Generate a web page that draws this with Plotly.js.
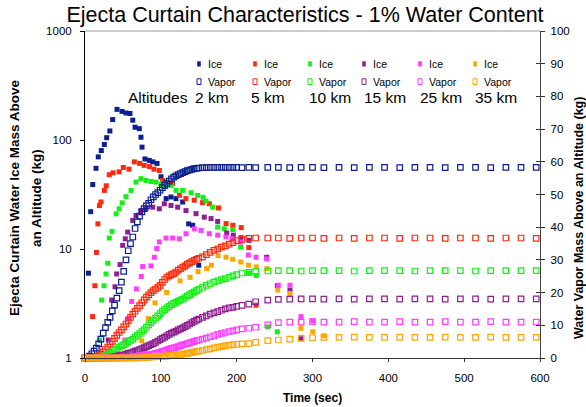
<!DOCTYPE html>
<html>
<head>
<meta charset="utf-8">
<script src="https://cdn.plot.ly/plotly-3.0.1.min.js"></script>
<style>
html,body{margin:0;padding:0;background:#fff;}
#chart{width:586px;height:407px;}
</style>
</head>
<body>
<div id="chart"></div>
<script>
// ---------------- DATA ----------------
const altitudes = ['2 km', '5 km', '10 km', '15 km', '25 km', '35 km'];
const xTicks = [0, 100, 200, 300, 400, 500, 600];
const yLeftTicks = [1, 10, 100, 1000];
const yRightTicks = [0, 10, 20, 30, 40, 50, 60, 70, 80, 90, 100];

// Ice mass above altitude (kg, left log axis)
const ice2kmTime = [4.5,7.5,10.2,14.5,17.5,21.5,25.5,28.6,32.8,36.5,42.2,48.8,54,59.3,63,66,71.6,73.8,75.2,79,84.8,89.3,95,100.2,107,113.4,120,128.8,136.7,142,150];
const ice2kmMass = [6,22,39,55,70,80,91,105,121,154,191,183,177,175,152,131,127,106,86,67,65,63,61,46,29,30,29,27,17,16.5,7.1];

const ice5kmTime = [10,13,15,17,19,21,25.5,28,32,37,45,50.5,58,65,72,78,85,91,98,102.5,109,115.5,124.5,133,144,155,164,176,186,195,206,216,225.5];
const ice5kmMass = [2.4,4.6,9.3,17,25,27,34.5,38,48,50,51,56,54,63,61,58.5,57,54,52.5,42.5,41,40,31,29,28,26.6,26,23.8,17.1,16.5,15.7,10.3,3.05];

const ice10kmTime = [19,22,25,27.7,30,32,35.6,41,45,49,54,60.7,67.3,73.8,80.4,87,93.6,100.2,106.8,113.4,120,128.8,139.8,148.6,155.6,159.6,168.4,175,183.7,194.8,205.3,215.6,225.9,241,253.6];
const ice10kmMass = [1.46,3.4,4.6,5.9,7.4,12.6,14.5,21,23.4,26.5,30.2,34.5,41.1,44.2,42.5,41.6,41.1,38.9,37.7,38.3,34.5,34.5,32.8,31,29.8,27.4,24.2,15.9,15.3,15.1,10.4,6,5.7,1.93,1.74];

const ice15kmTime = [30.7,35.2,39.6,41.8,46.2,49.7,53.1,56.3,62.9,67.3,73.8,80.4,89.3,98,104.6,113.4,122.2,133.2,146.4,157.3,166.2,175,186.9,195.6,205.7,216.3,239.6,253.6,270.3,284.8];
const ice15kmMass = [1.46,3.4,4.5,5.9,7.2,10.8,12.4,14.3,18.3,20.3,22.5,23.4,24.2,23.4,26,25.1,24.2,22.5,21.1,19.6,19,17.9,14,13.4,12.7,12,8.4,4.6,4.2,1.5];

const ice25kmTime = [52.7,57.1,61.6,67.7,74.2,76.1,87,91.4,94.6,98,106.8,115.6,124.4,133.2,144.1,153,163.9,175,185.9,194.2,205.3,215.3,225.5,239.6,254.9,270.3,284.8,300.3];
const ice25kmMass = [1.46,2.3,3.3,4.3,5.6,6.9,7,8.4,10.1,11.6,12.6,12.6,12.4,13.8,15.3,14.8,13.8,13.4,12.9,12.4,11.6,8.8,8.4,8.1,4.65,4.65,2.4,2.2];

const ice35kmTime = [74.8,83.5,92.3,107.7,125.3,138.5,149,160.5,166.6,175.4,185.9,194.8,205.3,215.6,225.9,240,254.1,270.3,284.8,300.3,315.2];
const ice35kmMass = [1.44,2.3,3.2,4.0,5.1,5.5,6.2,6.6,7.1,8.7,8.4,8.05,7.6,7.1,6.85,6.6,4.2,3.9,1.87,1.74,1.6];

// Vapor mass above altitude (kg, right linear axis), shared sample times
const vaporTime = [0,3,6,9,12,15,18,21,24,27,30,33,36,39,42,45,48,51,54,57,60,63,66,69,72,75,78,81,84,87,90,93,96,99,102,105,108,111,114,117,120,123,126,129,132,135,138,141,144,147,150,
  155,160,165,170,175,180,185,190,195,200,
  207,216,225,241,255,270,285,300,315,
  335,355,375,395,415,435,455,475,495,515,535,555,575,595];

const vapor2km = [0,0.2,0.6,1.3,2.1,3.0,4.3,5.8,7.6,9.3,10.9,12.4,14.4,16.2,18.3,20.6,23.2,26.5,30.0,32.8,35.0,37.0,39.6,41.6,43.4,44.7,45.7,46.5,47.3,48.4,49.3,50.0,50.6,51.3,52.1,52.8,53.4,54.1,54.8,55.3,55.7,56.1,56.4,56.7,57.0,57.3,57.5,57.7,57.9,58.0,58.1,
  58.2,58.2,58.3,58.3,58.3,58.3,58.3,58.3,58.3,58.3,
  58.2,58.3,58.2,58.3,58.3,58.2,58.3,58.3,58.2,
  58.3,58.2,58.3,58.3,58.2,58.3,58.3,58.2,58.3,58.3,58.2,58.3,58.3,58.3];

const vapor5km = [0,0,0,0.1,0.2,0.4,0.7,1.2,1.9,2.6,3.3,4.2,5.1,6.0,6.9,7.8,8.6,9.5,10.4,11.4,12.4,13.4,14.3,15.2,16.0,16.9,17.8,18.6,19.3,20.0,20.6,21.1,21.6,22.2,23.1,24.0,24.7,25.1,25.5,25.8,26.3,26.9,27.3,27.8,28.2,28.7,29.1,29.5,29.9,30.2,30.5,
  30.9,31.6,32.3,32.9,33.4,33.9,34.3,34.8,35.3,35.9,
  36.3,36.6,36.7,36.7,36.7,36.6,36.7,36.7,36.6,
  36.7,36.6,36.7,36.7,36.6,36.7,36.7,36.6,36.7,36.7,36.6,36.7,36.7,36.6];

const vapor10km = [0,0,0,0,0,0.1,0.2,0.3,0.5,0.7,1.0,1.4,1.9,2.4,2.8,3.3,3.7,4.1,4.5,5.0,5.4,5.8,6.4,6.9,7.5,8.1,8.7,9.4,10.1,10.8,11.5,12.2,12.9,13.6,14.3,14.8,15.3,15.8,16.3,16.7,17.0,17.4,17.7,18.0,18.5,19.0,19.4,19.8,20.2,20.6,21.0,
  21.6,22.2,22.7,23.2,23.6,24.0,24.3,24.7,25.1,25.5,
  26.0,26.2,26.4,26.6,26.7,26.7,26.6,26.7,26.7,
  26.7,26.6,26.7,26.7,26.7,26.6,26.7,26.7,26.7,26.6,26.7,26.7,26.7,26.7];

const vapor15km = [0,0,0,0,0,0,0,0,0,0,0.1,0.2,0.3,0.4,0.5,0.7,0.8,1.0,1.2,1.4,1.6,1.8,2.1,2.3,2.6,2.9,3.2,3.5,3.8,4.1,4.4,4.8,5.2,5.6,6.0,6.4,6.8,7.2,7.6,7.9,8.2,8.6,8.9,9.2,9.6,10.0,10.4,10.8,11.2,11.6,11.9,
  12.4,12.9,13.4,13.8,14.2,14.6,15.0,15.3,15.5,15.8,
  16.1,16.5,17.2,17.7,17.9,18.0,18.1,18.1,18.0,
  18.1,18.0,18.1,18.1,18.0,18.1,18.1,18.0,18.1,18.1,18.0,18.1,18.1,18.1];

const vapor25km = [0,0,0,0,0,0,0,0,0,0,0,0,0,0,0,0,0,
  0.1,0.1,0.2,0.3,0.4,0.5,0.6,0.7,0.8,0.9,1.0,1.0,1.1,
  1.2,1.4,1.6,1.8,2.0,2.2,2.5,2.7,2.9,3.1,3.3,3.5,3.8,4.0,4.2,4.4,4.6,4.9,5.1,5.3,5.5,
  5.8,6.1,6.5,6.8,7.2,7.5,7.8,8.1,8.3,8.6,
  8.9,9.1,9.4,10.1,10.8,11.0,11.0,11.1,11.0,
  11.0,11.1,11.0,11.0,11.1,11.0,11.0,11.1,11.0,11.0,11.1,11.0,11.0,11.0];

const vapor35km = [0,0,0,0,0,0,0,0,0,0,0,0,0,0,0,0,0,0,0,0,0,0,0,0,0,
  0.1,0.1,0.2,0.2,0.3,0.3,0.4,0.4,0.5,0.5,0.6,0.6,0.7,0.8,0.9,1.0,1.0,1.1,1.2,1.3,1.4,1.6,1.7,1.8,2.0,2.1,
  2.3,2.6,2.8,3.1,3.3,3.5,3.7,3.9,4.1,4.2,
  4.3,4.4,4.8,5.3,5.5,5.8,6.1,6.2,6.3,
  6.3,6.4,6.3,6.3,6.4,6.3,6.3,6.4,6.3,6.3,6.4,6.3,6.3,6.3];

// ---------------- STYLE ----------------
const colors = ['#0B1F8F', '#FF2A0D', '#14F014', '#8E1F8E', '#FF3DFF', '#FFA500'];
const FONT = 'Liberation Sans, Arial, Helvetica, sans-serif';

const iceTimes = [ice2kmTime, ice5kmTime, ice10kmTime, ice15kmTime, ice25kmTime, ice35kmTime];
const iceMasses = [ice2kmMass, ice5kmMass, ice10kmMass, ice15kmMass, ice25kmMass, ice35kmMass];
const vaporMasses = [vapor2km, vapor5km, vapor10km, vapor15km, vapor25km, vapor35km];

const traces = [];
for (let i = 0; i < 6; i++) {
  traces.push({
    type: 'scatter', mode: 'markers', name: 'Ice ' + altitudes[i],
    x: iceTimes[i], y: iceMasses[i], xaxis: 'x', yaxis: 'y',
    marker: {symbol: 'square', size: 5, color: colors[i], line: {width: 0}},
    hoverinfo: 'x+y+name'
  });
}
for (let i = 0; i < 6; i++) {
  traces.push({
    type: 'scatter', mode: 'markers', name: 'Vapor ' + altitudes[i],
    x: vaporTime, y: vaporMasses[i], xaxis: 'x', yaxis: 'y2', cliponaxis: false,
    marker: {symbol: 'square-open', size: 5.5, color: colors[i], line: {width: 1.2, color: colors[i]}},
    hoverinfo: 'x+y+name'
  });
}
// empty trace so the crossing-tick overlay axis is created
traces.push({type: 'scatter', mode: 'markers', x: [], y: [], xaxis: 'x', yaxis: 'y3', showlegend: false, hoverinfo: 'skip'});

// plot area in pixels: x 85..540, y 31..358
const PL = 85, PR = 540, PT = 31, PB = 358;
const px = v => (v - PL) / (PR - PL);
const py = v => (PB - v) / (PB - PT);

const annotations = [];
const shapes = [];

function ann(text, x, y, opts) {
  annotations.push(Object.assign({
    text: text, xref: 'paper', yref: 'paper', x: px(x), y: py(y),
    showarrow: false, xanchor: 'center', yanchor: 'middle',
    font: {family: FONT, size: 11, color: '#000'}
  }, opts || {}));
}

// axis titles
ann('<b>Ejecta Curtain Water Ice Mass Above</b>', 14, 198, {textangle: -90, font: {family: FONT, size: 13.5, color: '#000'}});
ann('<b>an Altitude (kg)</b>', 36, 198, {textangle: -90, font: {family: FONT, size: 13.5, color: '#000'}});
ann('<b>Water Vapor Mass Above an Altitude (kg)</b>', 579, 218, {textangle: -90, font: {family: FONT, size: 12.5, color: '#000'}});
ann('<b>Time (sec)</b>', 312, 398, {font: {family: FONT, size: 12, color: '#000'}});

// custom legend
const legendX = [199, 255, 310, 364, 420, 475];
const altX = [193, 249, 307, 362, 418, 473];
for (let i = 0; i < 6; i++) {
  const cx = legendX[i];
  shapes.push({type: 'rect', xref: 'paper', yref: 'paper',
    x0: px(cx - 1.8), x1: px(cx + 1.8), y0: py(66.5), y1: py(61.3),
    fillcolor: colors[i], line: {width: 0}});
  shapes.push({type: 'rect', xref: 'paper', yref: 'paper',
    x0: px(cx - 2), x1: px(cx + 2), y0: py(84.5), y1: py(78.8),
    fillcolor: 'rgba(0,0,0,0)', line: {width: 1, color: colors[i]}});
  ann('Ice', cx + 7, 64, {xanchor: 'left', font: {family: FONT, size: 10.5, color: '#000'}});
  ann('Vapor', cx + 7, 81.5, {xanchor: 'left', font: {family: FONT, size: 10.5, color: '#000'}});
  ann(altitudes[i], altX[i], 97, {xanchor: 'left', font: {family: FONT, size: 15.5, color: '#000'}});
}
ann('Altitudes', 126, 97, {xanchor: 'left', font: {family: FONT, size: 15.5, color: '#000'}});

// grey top border of plot area
shapes.push({type: 'line', xref: 'paper', yref: 'paper', x0: 0, x1: 1, y0: 1, y1: 1, line: {color: '#9a9a9a', width: 1}});

const layout = {
  width: 586, height: 407,
  margin: {l: PL, r: 586 - PR, t: PT, b: 407 - PB, pad: 0},
  paper_bgcolor: '#ffffff', plot_bgcolor: '#ffffff',
  showlegend: false,
  font: {family: FONT, size: 11, color: '#000'},
  title: {
    text: 'Ejecta Curtain Characteristics - 1% Water Content',
    font: {family: FONT, size: 21.5, color: '#000'},
    xref: 'container', yref: 'container',
    x: 305 / 586, xanchor: 'center', y: 1 - 14 / 407, yanchor: 'middle'
  },
  xaxis: {
    range: [0, 600], tickmode: 'array', tickvals: xTicks,
    ticks: 'outside', ticklen: 3, tickcolor: '#333', tickwidth: 1,
    showline: true, linecolor: '#333', linewidth: 1,
    showgrid: false, zeroline: false,
    tickfont: {family: FONT, size: 11.5, color: '#000'}, ticklabelstandoff: 6
  },
  yaxis: {
    type: 'log', range: [0, 3], tickmode: 'array', tickvals: yLeftTicks,
    ticktext: yLeftTicks.map(String),
    ticks: 'outside', ticklen: 4, tickcolor: '#000',
    showline: true, linecolor: '#000', linewidth: 1,
    showgrid: false, zeroline: false,
    tickfont: {family: FONT, size: 11.5, color: '#000'}, ticklabelstandoff: 6
  },
  yaxis2: {
    overlaying: 'y', side: 'right', range: [0, 100], tickmode: 'array', tickvals: yRightTicks,
    ticks: 'outside', ticklen: 4, tickcolor: '#333',
    showline: true, linecolor: '#444', linewidth: 1.2,
    showgrid: false, zeroline: false,
    tickfont: {family: FONT, size: 11.5, color: '#000'}, ticklabelstandoff: 3
  },
  yaxis3: {
    overlaying: 'y', side: 'right', range: [0, 100], tickmode: 'array', tickvals: yRightTicks,
    ticks: 'inside', ticklen: 4, tickcolor: '#333',
    showticklabels: false, showline: false, showgrid: false, zeroline: false
  },
  annotations: annotations,
  shapes: shapes
};

Plotly.newPlot('chart', traces, layout, {staticPlot: true, displayModeBar: false});
</script>
</body>
</html>
